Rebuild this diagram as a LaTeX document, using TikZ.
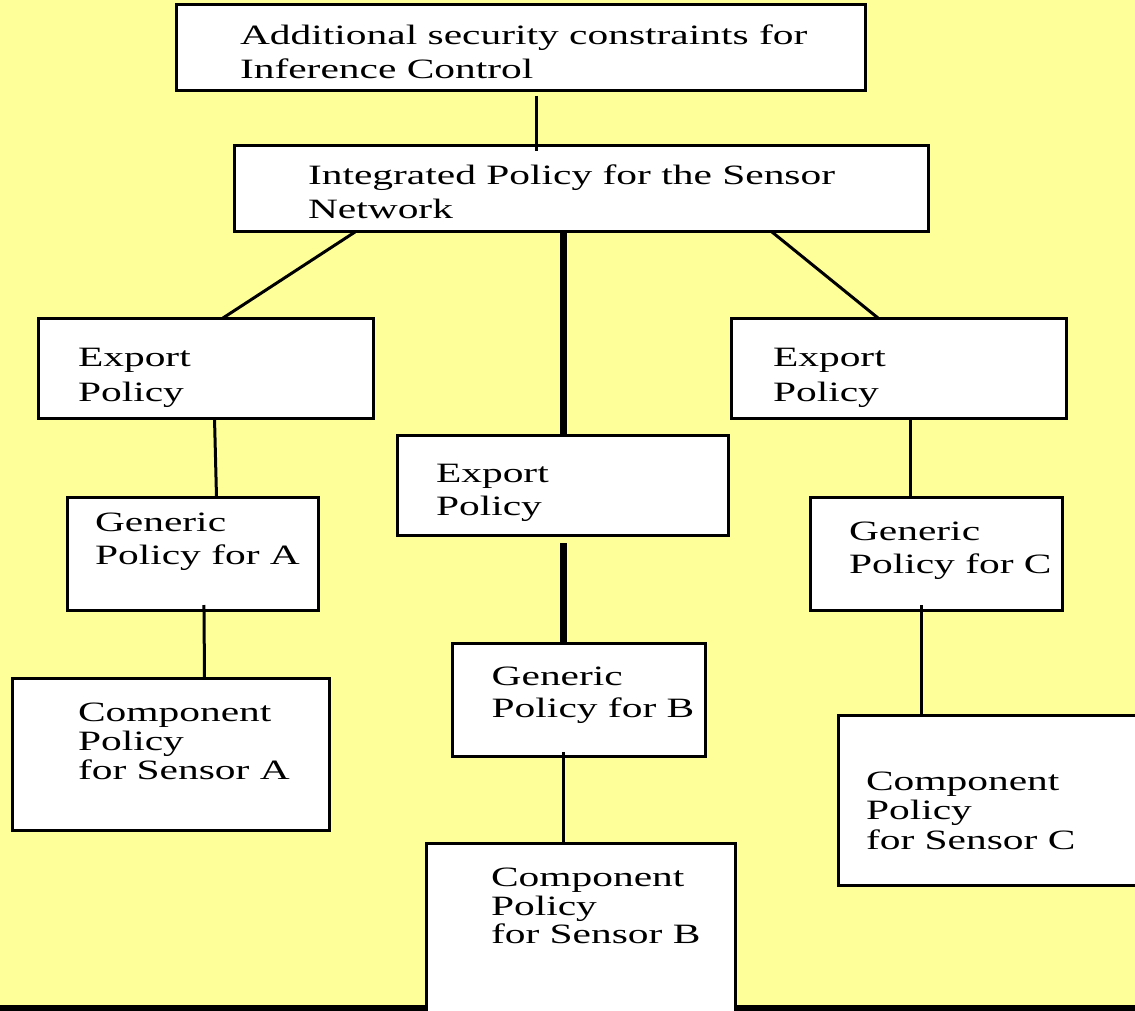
\documentclass[tikz,border=0pt]{standalone}
\usepackage{fontspec}
\newfontfamily\wide[FakeStretch=1.48]{Liberation Serif}
\definecolor{bgyellow}{HTML}{FFFF99}
\newcommand{\bxt}[2]{\fontsize{28}{#1}\selectfont\begin{tabular}[t]{@{}l@{}}#2\end{tabular}}
\begin{document}
\begin{tikzpicture}[x=1pt,y=-1pt,
  bx/.style={draw=black,fill=white,line width=3pt,rectangle,inner sep=0pt,outer sep=0pt},
  txt/.style={anchor=base west,inner sep=0pt,outer sep=0pt,font=\wide},
  link/.style={draw=black,line width=3pt},
  trunk/.style={draw=black,line width=7pt}]
\useasboundingbox (0,0) rectangle (1135,1011);
\fill[bgyellow] (0,0) rectangle (1135,1011);
\draw[line width=7pt] (0,1008.5) -- (1135,1008.5);

\node[bx,minimum width=689pt,minimum height=86pt] (b1) at (520.5,48) {};
\node[bx,minimum width=694pt,minimum height=86pt] (b2) at (581,189) {};
\node[bx,minimum width=335pt,minimum height=100pt] (b3) at (205.5,368) {};
\node[bx,minimum width=331pt,minimum height=100pt] (b4) at (562.5,485) {};
\node[bx,minimum width=335pt,minimum height=100pt] (b5) at (898.5,368) {};
\node[bx,minimum width=251pt,minimum height=113pt] (b6) at (192.5,553.5) {};
\node[bx,minimum width=253pt,minimum height=113pt] (b7) at (578.5,699.5) {};
\node[bx,minimum width=252pt,minimum height=113pt] (b8) at (936,553.5) {};
\node[bx,minimum width=317pt,minimum height=152pt] (b9) at (170.5,754) {};
\node[bx,minimum width=309pt,minimum height=197pt] (b10) at (580.5,941.5) {};
\node[bx,minimum width=322pt,minimum height=170pt] (b11) at (999,800) {};

\node[txt] (t1) at (240,45) {\bxt{33.3}{Additional security constraints for\\Inference Control}};
\node[txt] (t2) at (308,185) {\bxt{33.3}{Integrated Policy for the Sensor\\Network}};
\node[txt] (t3) at (78,366.7) {\bxt{35}{Export\\Policy}};
\node[txt] (t4) at (436,482.3) {\bxt{32.7}{Export\\Policy}};
\node[txt] (t5) at (773,366.7) {\bxt{35}{Export\\Policy}};
\node[txt] (t6) at (95,531.7) {\bxt{32.3}{Generic\\Policy for A}};
\node[txt] (t7) at (491.7,685) {\bxt{32.3}{Generic\\Policy for B}};
\node[txt] (t8) at (849,540.7) {\bxt{32.6}{Generic\\Policy for C}};
\node[txt] (t9) at (78,721) {\bxt{29}{Component\\Policy\\for Sensor A}};
\node[txt] (t10) at (491,886.7) {\bxt{28.3}{Component\\Policy\\for Sensor B}};
\node[txt] (t11) at (866,790.7) {\bxt{29.2}{Component\\Policy\\for Sensor C}};

\draw[link,shorten <=5pt,shorten >=-5pt] ([xshift=15.5pt]b1.south) -- ([xshift=-45pt]b2.north);
\draw[link] ([xshift=-226pt]b2.south) -- ([xshift=17.5pt]b3.north);
\draw[trunk] ([xshift=-18pt]b2.south) -- ([xshift=0.5pt]b4.north);
\draw[link] ([xshift=191pt]b2.south) -- ([xshift=-20.5pt]b5.north);
\draw[link] ([xshift=9pt]b3.south) -- ([xshift=24pt]b6.north);
\draw[trunk,shorten <=8pt] ([xshift=0.5pt]b4.south) -- ([xshift=-15.5pt]b7.north);
\draw[link] ([xshift=12pt]b5.south) -- ([xshift=-25.5pt]b8.north);
\draw[link,shorten <=-5pt] ([xshift=11.5pt]b6.south) -- ([xshift=34pt]b9.north);
\draw[link,shorten <=-4pt] ([xshift=-15.2pt]b7.south) -- ([xshift=-17.2pt]b10.north);
\draw[link,shorten <=-5pt] ([xshift=-15pt]b8.south) -- ([xshift=-78pt]b11.north);
\end{tikzpicture}
\end{document}
